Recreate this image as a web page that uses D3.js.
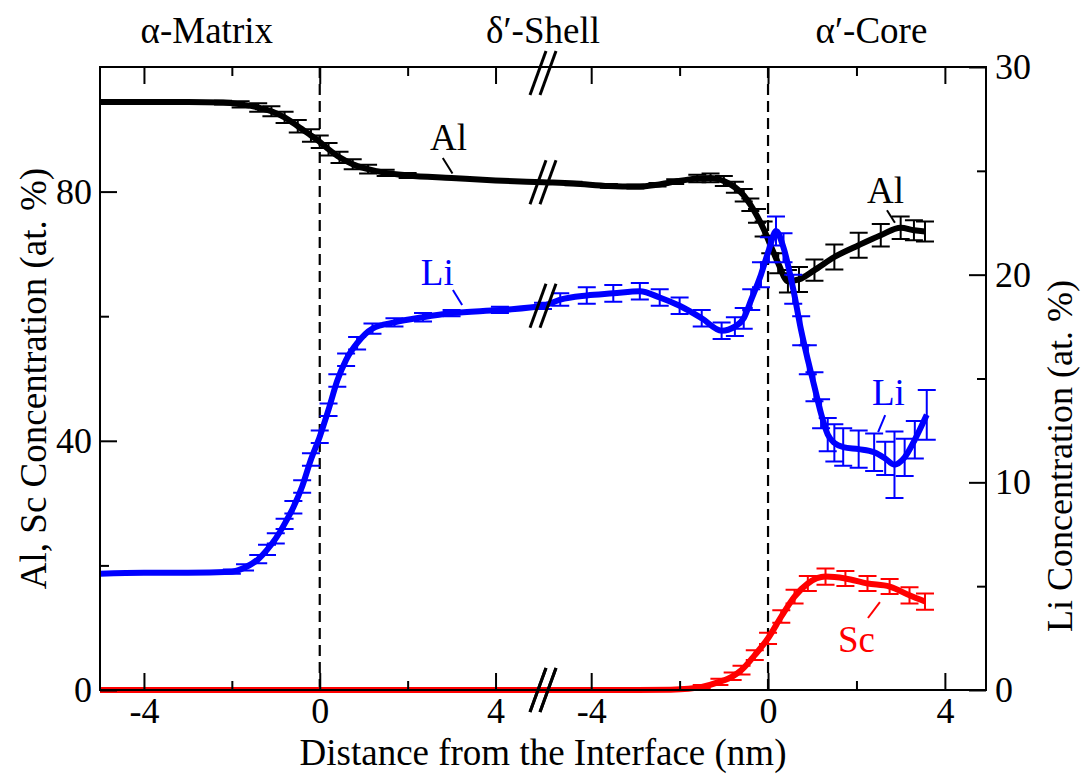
<!DOCTYPE html>
<html>
<head>
<meta charset="utf-8">
<script src="https://cdn.jsdelivr.net/npm/d3@7"></script>
<style>
  body { margin: 0; background: #fff; }
  svg { display: block; }
</style>
</head>
<body>
<div id="chart"></div>
<script>
// data: [distance (nm), concentration (at. %), error]
// left panel = alpha matrix / delta' shell interface, right panel = delta' shell / alpha' core
var alLeft = [[-5.0,94.4,0],[-4.0,94.4,0],[-3.0,94.4,0],[-2.2,94.3,0.3],[-1.8,94.0,0.5],[-1.4,93.5,0.7],
  [-1.1,92.9,0.8],[-0.8,91.9,0.9],[-0.5,90.5,1.0],[-0.2,89.0,1.0],[0.0,88.0,1.0],[0.2,86.8,1.0],
  [0.45,85.5,0.9],[0.75,84.4,0.8],[1.1,83.6,0.7],[1.5,83.0,0.5],[2.0,82.6,0.4],[3.0,82.2,0],
  [4.0,81.8,0],[5.08,81.5,0]]
var alRight = [[-5.09,81.5,0],[-4.4,81.3,0.3],[-3.6,80.9,0.3],[-3.0,80.8,0.3],[-2.5,81.1,0.3],
  [-2.1,81.6,0.4],[-1.6,82.1,0.6],[-1.3,82.2,0.7],[-1.0,81.7,0.8],[-0.75,80.7,0.9],[-0.55,79.4,1.0],
  [-0.4,77.9,1.0],[-0.25,76.1,1.1],[-0.1,74.0,1.2],[0.05,71.5,1.4],[0.23,68.5,1.6],[0.45,65.6,1.8],
  [0.7,65.9,2.0],[1.05,67.4,1.7],[1.5,69.5,2.0],[2.05,71.4,2.0],[2.55,73.0,1.8],[3.0,74.2,1.8],
  [3.3,73.8,1.6],[3.55,73.6,1.6]]
// Li is read on the right axis
var liLeft = [[-5.0,5.6,0],[-4.0,5.65,0],[-3.0,5.65,0],[-2.0,5.7,0.1],[-1.7,5.9,0.15],[-1.4,6.3,0.2],
  [-1.2,6.75,0.25],[-1.0,7.3,0.25],[-0.8,8.0,0.25],[-0.6,8.8,0.3],[-0.4,9.8,0.3],[-0.2,11.1,0.3],
  [0.0,12.2,0.3],[0.2,13.5,0.3],[0.4,14.9,0.3],[0.6,15.9,0.3],[0.85,16.7,0.3],[1.2,17.4,0.25],
  [1.7,17.7,0.2],[2.35,17.95,0.2],[3.0,18.15,0.15],[4.1,18.3,0.15],[5.08,18.5,0.15]]
var liRight = [[-5.09,18.5,0.2],[-4.7,18.8,0.3],[-4.1,19.0,0.4],[-3.5,19.1,0.4],[-2.9,19.2,0.4],
  [-2.45,18.9,0.4],[-2.0,18.5,0.4],[-1.5,17.9,0.4],[-1.05,17.3,0.4],[-0.75,17.5,0.45],[-0.55,17.9,0.5],
  [-0.38,18.8,0.5],[-0.16,20.0,0.6],[0.02,21.2,0.6],[0.18,22.1,0.7],[0.35,21.3,0.7],[0.57,19.3,0.7],
  [0.75,17.3,0.7],[0.9,15.9,0.7],[1.05,14.6,0.7],[1.2,13.3,0.7],[1.35,12.3,0.8],[1.5,11.9,0.9],
  [1.7,11.7,0.9],[2.05,11.6,0.9],[2.4,11.45,0.9],[2.65,11.15,0.8],[2.86,10.85,1.6],[3.09,11.2,0.9],
  [3.32,12.05,0.9],[3.59,13.25,1.2]]
var scLeft = [[-5.0,0,0],[-2.5,0,0],[0.0,0,0],[2.5,0,0],[5.08,0,0]]
var scRight = [[-5.09,0,0],[-3.0,0,0],[-2.2,0.05,0],[-1.8,0.2,0.2],[-1.5,0.5,0.3],[-1.1,1.3,0.5],
  [-0.8,2.2,0.6],[-0.6,3.2,0.7],[-0.3,5.6,0.8],[0.0,8.3,0.9],[0.3,11.8,1.0],[0.6,15.0,1.1],
  [0.9,17.1,1.2],[1.3,18.2,1.3],[1.75,17.9,1.2],[2.25,17.1,1.2],[2.75,16.6,1.2],[3.2,15.2,1.3],
  [3.55,14.2,1.3]]

var xMajor = [-4, 0, 4]
var xMinor = [-2, 2]
var yLeftMajor = [0, 40, 80]
var yLeftMinor = [20, 60]
var yRightMajor = [0, 10, 20, 30]
var yRightMinor = [5, 15, 25]

var regionLabels = [["α-Matrix", "L", -2.57], ["δ′-Shell", "L", 5.08], ["α′-Core", "R", 2.34]]
// text position + leader from/to, in data units of the segment/axis
var notes = [
  {t: "Al", c: "black", seg: "L", ax: "L", x: 2.51, y: 86.7, l: [2.8, 85.4, 3.02, 82.9]},
  {t: "Li", c: "blue",  seg: "L", ax: "R", x: 2.3,  y: 19.5, l: [3.03, 19.26, 3.24, 18.54]},
  {t: "Al", c: "black", seg: "R", ax: "L", x: 2.24, y: 78.2, l: [2.69, 77.0, 2.87, 75.0]},
  {t: "Li", c: "blue",  seg: "R", ax: "R", x: 2.35, y: 13.72, l: [2.65, 13.24, 2.49, 12.42]},
  {t: "Sc", c: "red",   seg: "R", ax: "L", x: 1.58, y: 6.1,  l: [2.53, 14.1, 2.26, 11.56]}
]

var W = 1083, H = 775
var pLeft = 100, pRight = 986, pTop = 67, pBottom = 690, brk = 543
var font = "'Liberation Serif', 'Times New Roman', serif"

var svg = d3.select("#chart").append("svg").attr("width", W).attr("height", H)

var xL = d3.scaleLinear().domain([-5, 5.08]).range([pLeft, brk])
var xR = d3.scaleLinear().domain([-5.09, 4.93]).range([brk, pRight])
var yL = d3.scaleLinear().domain([0, 100]).range([pBottom, pTop])
var yR = d3.scaleLinear().domain([0, 30]).range([pBottom, pTop])
var xs = {L: xL, R: xR}
var ys = {L: yL, R: yR}

// dashed interface lines
;[xL(0), xR(0)].forEach(function(x){
  svg.append("line").attr("x1", x).attr("x2", x).attr("y1", pTop).attr("y2", pBottom)
    .style("stroke", "black").style("stroke-width", 2.2).style("stroke-dasharray", "11,6")
})

var line = d3.line().x(function(d){ return d[0] }).y(function(d){ return d[1] }).curve(d3.curveMonotoneX)

function toPx(x, yScale){
  return function(d){
    return [x(d[0]), yScale(d[1]), d[2] ? yScale(d[1]-d[2]) : null, d[2] ? yScale(d[1]+d[2]) : null]
  }
}

function drawSeries(lData, rData, yScale, color){
  var pts = lData.map(toPx(xL, yScale)).concat(rData.slice(1).map(toPx(xR, yScale)))
  var g = svg.append("g")
  var bars = pts.filter(function(p){ return p[2] !== null })
  g.selectAll(".eb").data(bars).enter().append("path")
    .attr("d", function(p){
      return "M" + p[0] + "," + p[2] + "V" + p[3] +
        "M" + (p[0]-9) + "," + p[2] + "H" + (p[0]+9) +
        "M" + (p[0]-9) + "," + p[3] + "H" + (p[0]+9)
    })
    .style("stroke", color).style("stroke-width", 2).style("fill", "none")
  g.append("path").attr("d", line(pts))
    .style("stroke", color).style("stroke-width", 6).style("fill", "none")
    .style("stroke-linejoin", "round")
  // break mark on the curve
  drawBreak(brk, yScale(lData[lData.length-1][1]))
}

function drawBreak(cx, cy){
  ;[-5, 5].forEach(function(o){
    svg.append("line")
      .attr("x1", cx + o - 8).attr("y1", cy + 22)
      .attr("x2", cx + o + 8).attr("y2", cy - 22)
      .style("stroke", "black").style("stroke-width", 3)
  })
}

drawSeries(alLeft, alRight, yL, "black")
drawSeries(liLeft, liRight, yR, "blue")
drawSeries(scLeft, scRight, yL, "red")

// frame
svg.append("rect").attr("x", pLeft).attr("y", pTop).attr("width", pRight-pLeft).attr("height", pBottom-pTop)
  .style("fill", "none").style("stroke", "black").style("stroke-width", 2)

function styleAxis(g){
  g.select(".domain").remove()
  g.attr("font-family", font).attr("font-size", 36)
  g.selectAll(".tick line").style("stroke", "black").style("stroke-width", 2)
  g.selectAll(".tick text").style("fill", "black")
}
var fmt = function(d){ return String(d) }

;[xL, xR].forEach(function(x){
  svg.append("g").attr("transform", "translate(0," + pBottom + ")")
    .call(d3.axisBottom(x).tickValues(xMajor).tickSize(-17).tickPadding(7).tickFormat(fmt)).call(styleAxis)
  svg.append("g").attr("transform", "translate(0," + pBottom + ")")
    .call(d3.axisBottom(x).tickValues(xMinor).tickSize(-9).tickFormat("")).call(styleAxis)
  svg.append("g").attr("transform", "translate(0," + pTop + ")")
    .call(d3.axisTop(x).tickValues(xMajor).tickSize(-17).tickFormat("")).call(styleAxis)
  svg.append("g").attr("transform", "translate(0," + pTop + ")")
    .call(d3.axisTop(x).tickValues(xMinor).tickSize(-9).tickFormat("")).call(styleAxis)
})

svg.append("g").attr("transform", "translate(" + pLeft + ",0)")
  .call(d3.axisLeft(yL).tickValues(yLeftMajor).tickSize(-17).tickPadding(8).tickFormat(fmt)).call(styleAxis)
svg.append("g").attr("transform", "translate(" + pLeft + ",0)")
  .call(d3.axisLeft(yL).tickValues(yLeftMinor).tickSize(-9).tickFormat("")).call(styleAxis)
svg.append("g").attr("transform", "translate(" + pRight + ",0)")
  .call(d3.axisRight(yR).tickValues(yRightMajor).tickSize(-17).tickPadding(9).tickFormat(fmt)).call(styleAxis)
svg.append("g").attr("transform", "translate(" + pRight + ",0)")
  .call(d3.axisRight(yR).tickValues(yRightMinor).tickSize(-9).tickFormat("")).call(styleAxis)

// axis breaks
drawBreak(brk, pTop + 6)
drawBreak(brk, pBottom)

// titles
svg.append("text").attr("x", (pLeft+pRight)/2).attr("y", 765).attr("text-anchor", "middle")
  .style("font-family", font).style("font-size", "37px").text("Distance from the Interface (nm)")
svg.append("text").attr("transform", "translate(46," + (pTop+pBottom)/2 + ") rotate(-90)")
  .attr("text-anchor", "middle").style("font-family", font).style("font-size", "37px")
  .text("Al, Sc Concentration (at. %)")
svg.append("text").attr("transform", "translate(1072,456) rotate(-90)")
  .attr("text-anchor", "middle").style("font-family", font).style("font-size", "36px")
  .text("Li Concentration (at. %)")

regionLabels.forEach(function(r){
  svg.append("text").attr("x", xs[r[1]](r[2])).attr("y", 43).attr("text-anchor", "middle")
    .style("font-family", font).style("font-size", "37px").text(r[0])
})

notes.forEach(function(n){
  var x = xs[n.seg], y = ys[n.ax]
  svg.append("text").attr("x", x(n.x)).attr("y", y(n.y))
    .style("font-family", font).style("font-size", "37px").style("fill", n.c).text(n.t)
  svg.append("line").attr("x1", x(n.l[0])).attr("y1", y(n.l[1])).attr("x2", x(n.l[2])).attr("y2", y(n.l[3]))
    .style("stroke", n.c).style("stroke-width", 2)
})
</script>
</body>
</html>
